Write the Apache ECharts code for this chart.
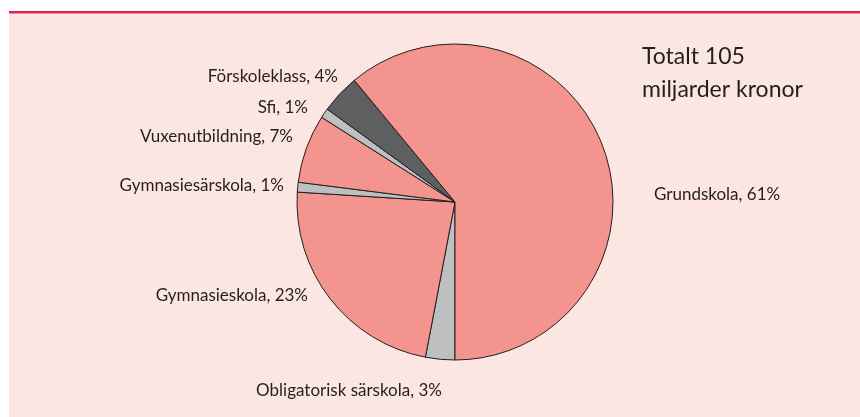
<!DOCTYPE html>
<html><head><meta charset="utf-8">
<script src="https://cdn.jsdelivr.net/npm/echarts@6/dist/echarts.min.js"></script>
<style>html,body{margin:0;padding:0;background:#fff}#c{width:860px;height:417px}</style>
</head><body><div id="c"></div>
<script>
var categories = ['Obligatorisk särskola','Gymnasieskola','Gymnasiesärskola','Vuxenutbildning','Sfi','Förskoleklass','Grundskola'];
var values = [3, 23, 1, 7, 1, 4, 61];
var totalText = ['Totalt 105', 'miljarder kronor'];

var colors = ['#BEBFC1','#F4948F','#BEBFC1','#F4948F','#BEBFC1','#5E5F61','#F4948F'];
// label anchor positions [x, y, align]
var labelPos = [
  [349, 391, 'center'],
  [308, 296, 'right'],
  [284, 186, 'right'],
  [293, 137, 'right'],
  [308, 108, 'right'],
  [338, 77, 'right'],
  [654, 195, 'left']
];

var chart = echarts.init(document.getElementById('c'));
chart.setOption({
  animation: false,
  backgroundColor: '#ffffff',
  textStyle: {fontFamily: 'Lato'},
  graphic: [
    {type: 'rect', silent: true, z: -10, shape: {x: 9, y: 14, width: 851, height: 403}, style: {fill: '#FCE6E2'}},
    {type: 'rect', silent: true, z: -9, shape: {x: 9, y: 11, width: 851, height: 2.5}, style: {fill: '#E0214F'}}
  ],
  title: {
    text: totalText.join('\n'),
    left: 642, top: 40, padding: 0,
    textStyle: {fontFamily: 'Lato', fontSize: 23, fontWeight: 'normal', color: '#231F20', lineHeight: 33}
  },
  series: [{
    type: 'pie',
    center: [455, 202],
    radius: 158,
    startAngle: 270,
    clockwise: true,
    avoidLabelOverlap: false,
    emphasis: {disabled: true},
    itemStyle: {borderColor: '#231F20', borderWidth: 1},
    label: {
      show: true,
      formatter: '{b}, {c}%',
      fontFamily: 'Lato', fontSize: 17, color: '#231F20'
    },
    labelLine: {show: false},
    labelLayout: function (p) {
      var lp = labelPos[p.dataIndex];
      return {x: lp[0], y: lp[1], align: lp[2], verticalAlign: 'middle'};
    },
    data: categories.map(function (c, i) {
      return {name: c, value: values[i], itemStyle: {color: colors[i]}};
    })
  }]
});
</script>
</body></html>
